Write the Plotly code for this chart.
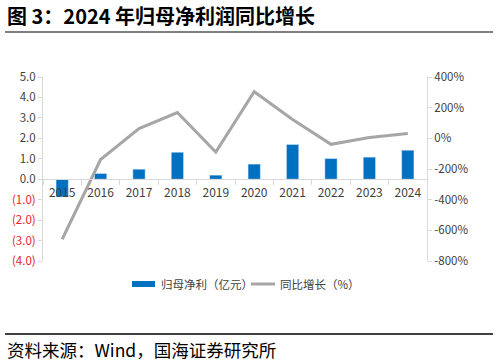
import plotly.graph_objects as go

years = ["2015", "2016", "2017", "2018", "2019", "2020", "2021", "2022", "2023", "2024"]
profit = [-0.87, 0.28, 0.49, 1.32, 0.20, 0.74, 1.70, 1.01, 1.08, 1.42]
growth = [-658, -138, 64, 168, -90, 304, 123, -39, 5, 31]

left_vals = [5, 4, 3, 2, 1, 0, -1, -2, -3, -4]
left_text = ["5.0", "4.0", "3.0", "2.0", "1.0", "0.0",
             '<span style="color:#e8202a">(1.0)</span>',
             '<span style="color:#e8202a">(2.0)</span>',
             '<span style="color:#e8202a">(3.0)</span>',
             '<span style="color:#e8202a">(4.0)</span>']
right_vals = [400, 200, 0, -200, -400, -600, -800]
right_text = ["400%", "200%", "0%", "-200%", "-400%", "-600%", "-800%"]
bar_name = "归母净利（亿元）"
line_name = "同比增长（%）"

FONT = "Noto Sans CJK SC"
AX = "#d9d9d9"
BAR_C = "#0070c0"
LINE_C = "#a6a6a6"

fig = go.Figure()
fig.add_trace(go.Bar(x=years, y=profit, name=bar_name, marker_color=BAR_C,
                     width=0.32, yaxis="y", showlegend=False))
fig.add_trace(go.Scatter(x=years, y=growth, name=line_name, mode="lines",
                         line=dict(color=LINE_C, width=3), yaxis="y2", showlegend=False))

fig.update_layout(
    width=498, height=362,
    margin=dict(l=43, r=71, t=77, b=101, autoexpand=False),
    paper_bgcolor="white", plot_bgcolor="white",
    font=dict(family=FONT, size=11, color="#404040"),
    xaxis=dict(type="category", anchor="free", position=4/9, showline=True, linecolor=AX,
               linewidth=1, ticks="outside", tickson="boundaries", ticklen=5, tickcolor=AX,
               showgrid=False, tickfont=dict(size=12, color="#404040"), range=[-0.5, 9.5],
               ticklabelstandoff=2),
    yaxis=dict(range=[-4, 5], tickvals=left_vals, ticktext=left_text, showgrid=False,
               zeroline=False, showline=True, linecolor=AX, ticks="outside", ticklen=4,
               tickcolor=AX, tickfont=dict(size=11.5, color="#404040")),
    yaxis2=dict(range=[-800, 400], tickvals=right_vals, ticktext=right_text, overlaying="y",
                side="right", showgrid=False, zeroline=False, showline=True, linecolor=AX,
                ticks="outside", ticklen=4, tickcolor=AX, tickfont=dict(size=11.5, color="#404040")),
)

def px_x(px):
    return (px - 43) / 384

def px_y(py):
    return (261 - py) / 184

# legend (drawn manually to match the wide bar swatch)
fig.add_shape(type="rect", xref="paper", yref="paper", x0=px_x(132), x1=px_x(155),
              y0=px_y(287), y1=px_y(281), fillcolor=BAR_C, line=dict(width=0))
fig.add_annotation(text=bar_name, xref="paper", yref="paper", x=px_x(159), xanchor="left",
                   y=px_y(284), yanchor="middle", showarrow=False,
                   font=dict(size=11.5, color="#404040", family=FONT))
fig.add_shape(type="line", xref="paper", yref="paper", x0=px_x(251), x1=px_x(275),
              y0=px_y(284), y1=px_y(284), line=dict(color=LINE_C, width=3))
fig.add_annotation(text=line_name, xref="paper", yref="paper", x=px_x(278), xanchor="left",
                   y=px_y(284), yanchor="middle", showarrow=False,
                   font=dict(size=11.5, color="#404040", family=FONT))

fig.add_annotation(text="<b>图 3：2024 年归母净利润同比增长</b>", xref="paper", yref="paper",
                   x=px_x(5), xanchor="left", y=px_y(15), yanchor="middle",
                   showarrow=False, font=dict(size=20, color="#000000", family=FONT))
fig.add_annotation(text="资料来源：Wind，国海证券研究所", xref="paper", yref="paper",
                   x=px_x(5), xanchor="left", y=px_y(349), yanchor="middle",
                   showarrow=False, font=dict(size=17.5, color="#000000", family=FONT))
fig.add_shape(type="line", xref="paper", yref="paper", x0=px_x(5), x1=px_x(493),
              y0=px_y(32), y1=px_y(32), line=dict(color="#808080", width=2))
fig.add_shape(type="line", xref="paper", yref="paper", x0=px_x(5), x1=px_x(493),
              y0=px_y(334), y1=px_y(334), line=dict(color="#000000", width=1.5))

fig.write_html("out.html")
